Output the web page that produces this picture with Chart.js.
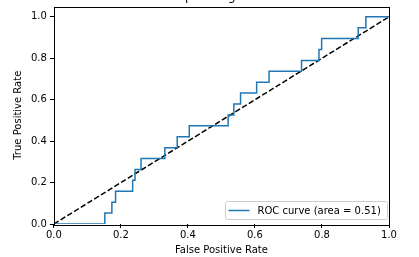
<!DOCTYPE html>
<html>
<head>
<meta charset="utf-8">
<script src="https://cdn.jsdelivr.net/npm/chart.js@4/dist/chart.umd.min.js"></script>
<style>
  html, body { margin: 0; padding: 0; background: #fff; }
  #wrap { width: 419px; height: 257px; position: relative; }
</style>
</head>
<body>
<div id="wrap"><canvas id="roc"></canvas></div>
<script>
var fpr = [0, 0.152, 0.152, 0.173, 0.173, 0.184, 0.184, 0.235, 0.235, 0.242, 0.242, 0.26, 0.26,
           0.331, 0.331, 0.368, 0.368, 0.404, 0.404, 0.52, 0.52, 0.537, 0.537, 0.557, 0.557,
           0.605, 0.605, 0.642, 0.642, 0.739, 0.739, 0.791, 0.791, 0.799, 0.799, 0.908, 0.908,
           0.931, 0.931, 1];
var tpr = [0, 0, 0.053, 0.053, 0.105, 0.105, 0.158, 0.158, 0.211, 0.211, 0.263, 0.263, 0.316,
           0.316, 0.368, 0.368, 0.421, 0.421, 0.474, 0.474, 0.526, 0.526, 0.579, 0.579, 0.632,
           0.632, 0.684, 0.684, 0.737, 0.737, 0.789, 0.789, 0.842, 0.842, 0.895, 0.895, 0.947,
           0.947, 1, 1];
var chance = [0, 1];
var tickVals = [0, 0.2, 0.4, 0.6, 0.8, 1.0];
var rocArea = 0.51;
var titleText = 'Receiver operating characteristic';

var font = "'DejaVu Sans', sans-serif";

// matplotlib-ish frame: all four spines
var framePlugin = {
    id: 'frame',
    afterDatasetsDraw: function (chart) {
        var a = chart.chartArea, ctx = chart.ctx;
        ctx.save();
        ctx.strokeStyle = '#000';
        ctx.lineWidth = 1;
        ctx.strokeRect(Math.round(a.left) + 0.5, Math.round(a.top) + 0.5,
                       Math.round(a.right - a.left), Math.round(a.bottom - a.top));
        ctx.restore();
    }
};

// title sits mostly above the visible area
var topTitle = {
    id: 'topTitle',
    afterDraw: function (chart) {
        var a = chart.chartArea, ctx = chart.ctx;
        ctx.save();
        ctx.font = '12px ' + font;
        ctx.fillStyle = '#000';
        ctx.textAlign = 'center';
        ctx.textBaseline = 'alphabetic';
        ctx.fillText(titleText, (a.left + a.right) / 2, a.top - 7);
        ctx.restore();
    }
};

// legend box in lower right
var boxLegend = {
    id: 'boxLegend',
    afterDraw: function (chart) {
        var a = chart.chartArea, ctx = chart.ctx;
        var ds = chart.data.datasets[0];
        var w = 162, h = 18;
        var x = a.right - w - 1.5, y = a.bottom - h - 4.5;
        ctx.save();
        ctx.fillStyle = 'rgba(255,255,255,0.8)';
        ctx.strokeStyle = '#cccccc';
        ctx.lineWidth = 1;
        ctx.beginPath();
        ctx.roundRect(x, y, w, h, 2);
        ctx.fill();
        ctx.stroke();
        ctx.strokeStyle = ds.borderColor;
        ctx.lineWidth = 1.5;
        ctx.beginPath();
        ctx.moveTo(x + 3, y + h / 2);
        ctx.lineTo(x + 24, y + h / 2);
        ctx.stroke();
        ctx.fillStyle = '#000';
        ctx.font = '10px ' + font;
        ctx.textBaseline = 'middle';
        ctx.fillText(ds.label, x + 32, y + h / 2 + 0.5);
        ctx.restore();
    }
};

function toPts(xs, ys) {
    return xs.map(function (v, i) { return { x: v, y: ys[i] }; });
}

function onlyTicks(axis) {
    axis.ticks = tickVals.map(function (v) { return { value: v }; });
}

new Chart(document.getElementById('roc'), {
    type: 'line',
    data: {
        datasets: [{
            label: 'ROC curve (area = ' + rocArea.toFixed(2) + ')',
            data: toPts(fpr, tpr),
            borderColor: '#1f77b4',
            borderWidth: 1.5,
            pointRadius: 0,
            tension: 0,
            fill: false
        }, {
            label: 'chance',
            data: toPts(chance, chance),
            borderColor: '#000',
            borderWidth: 1.5,
            borderDash: [5.5, 2.4],
            pointRadius: 0,
            fill: false
        }]
    },
    options: {
        responsive: true,
        maintainAspectRatio: false,
        animation: false,
        layout: { padding: { left: 12, right: 30, top: 6.5, bottom: 1 } },
        plugins: {
            legend: { display: false },
            tooltip: { enabled: false },
            title: { display: false }
        },
        scales: {
            x: {
                type: 'linear',
                min: 0,
                max: 1,
                afterBuildTicks: onlyTicks,
                grid: { display: true, drawOnChartArea: false, color: '#000', tickLength: 4 },
                border: { display: false },
                ticks: {
                    color: '#000',
                    padding: 1,
                    maxRotation: 0,
                    font: { family: font, size: 10 },
                    callback: function (v) { return v.toFixed(1); }
                },
                title: {
                    display: true,
                    text: 'False Positive Rate',
                    color: '#000',
                    font: { family: font, size: 10 },
                    padding: { top: 2, bottom: 0 }
                }
            },
            y: {
                type: 'linear',
                min: 0,
                max: 1.05,
                afterBuildTicks: onlyTicks,
                afterFit: function (axis) { axis.paddingTop = 0; },
                grid: { display: true, drawOnChartArea: false, color: '#000', tickLength: 4 },
                border: { display: false },
                ticks: {
                    color: '#000',
                    padding: 3,
                    font: { family: font, size: 10 },
                    callback: function (v) { return v.toFixed(1); }
                },
                title: {
                    display: true,
                    text: 'True Positive Rate',
                    color: '#000',
                    font: { family: font, size: 10 },
                    padding: { top: 0, bottom: 4 }
                }
            }
        }
    },
    plugins: [framePlugin, topTitle, boxLegend]
});
</script>
</body>
</html>
